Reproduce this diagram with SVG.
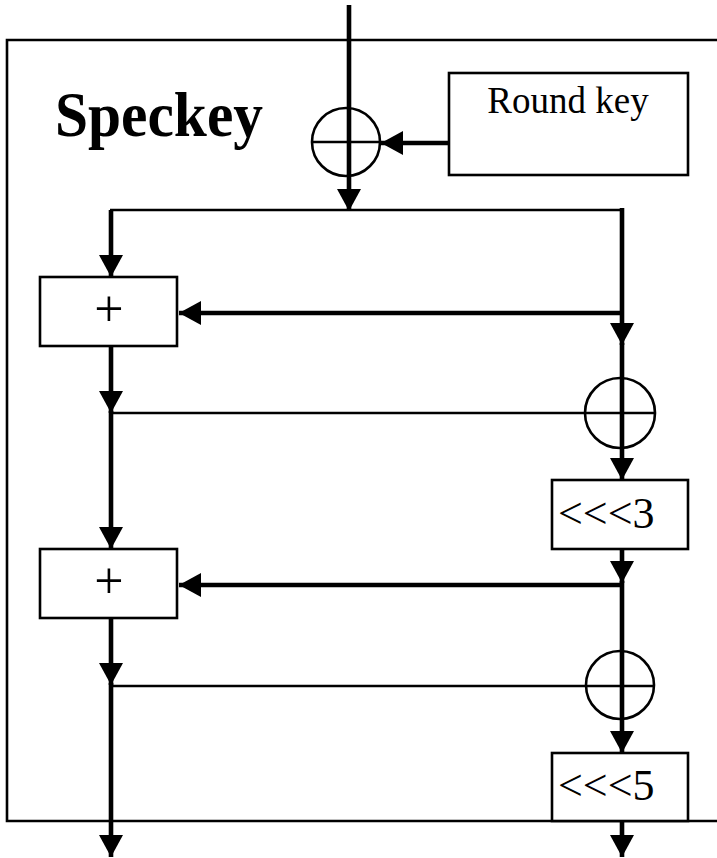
<svg xmlns="http://www.w3.org/2000/svg" width="717" height="858" viewBox="0 0 717 858">
  <defs>
    <marker id="arrow" markerUnits="userSpaceOnUse" markerWidth="22" markerHeight="24" refX="22" refY="12" orient="auto">
      <path d="M0,0 L22,12 L0,24 Z" fill="#000"/>
    </marker>
    <style>
      .box { fill: #fff; stroke: #000; stroke-width: 2.6; }
      .frame { fill: none; stroke: #000; stroke-width: 2.6; }
      .xor { fill: none; stroke: #000; stroke-width: 2.6; }
      .thick { fill: none; stroke: #000; stroke-width: 4.6; }
      .thin { fill: none; stroke: #000; stroke-width: 2.6; }
      .arr { marker-end: url(#arrow); }
      .label { font-family: "Liberation Serif", "Times New Roman", serif; fill: #000; }
    </style>
  </defs>
  <rect width="717" height="858" fill="#fff"/>

  <!-- outer round frame, open on the right where it leaves the page -->
  <path class="frame" d="M717,40 H7 V821 H717"/>
  <text class="label" x="55" y="136" font-size="64" font-weight="bold" textLength="208" lengthAdjust="spacingAndGlyphs">Speckey</text>

  <!-- connectors -->
  <g id="connectors">
    <line class="thick arr" x1="349" y1="5" x2="349" y2="211"/>
    <line class="thick arr" x1="449" y1="143" x2="381" y2="143"/>
    <line class="thin" x1="110" y1="210" x2="623" y2="210"/>
    <line class="thick arr" x1="111" y1="210" x2="111" y2="277"/>
    <line class="thick arr" x1="622" y1="208" x2="622" y2="345"/>
    <line class="thick arr" x1="622" y1="343" x2="622" y2="480"/>
    <line class="thick arr" x1="624" y1="313" x2="179" y2="313"/>
    <line class="thick arr" x1="111" y1="346" x2="111" y2="413"/>
    <line class="thick arr" x1="111" y1="411" x2="111" y2="549"/>
    <line class="thin" x1="111" y1="413" x2="655" y2="413"/>
    <line class="thick arr" x1="622" y1="549" x2="622" y2="583"/>
    <line class="thick arr" x1="622" y1="581" x2="622" y2="753"/>
    <line class="thick arr" x1="624" y1="585" x2="179" y2="585"/>
    <line class="thick arr" x1="111" y1="618" x2="111" y2="685"/>
    <line class="thick arr" x1="111" y1="683" x2="111" y2="857"/>
    <line class="thin" x1="111" y1="686" x2="655" y2="686"/>
    <line class="thick arr" x1="622" y1="821" x2="622" y2="857"/>
  </g>

  <g id="roundkey">
    <rect class="box" x="449" y="73" width="239" height="102"/>
    <text class="label" x="568" y="113" font-size="37" text-anchor="middle">Round key</text>
  </g>

  <g id="xor-key">
    <circle class="xor" cx="346" cy="142" r="34"/>
    <line class="thin" x1="312" y1="142" x2="380" y2="142"/>
  </g>

  <g id="add1">
    <rect class="box" x="40" y="277" width="137" height="69"/>
    <text class="label" x="109" y="326" font-size="52" text-anchor="middle">+</text>
  </g>

  <g id="xor1">
    <circle class="xor" cx="620" cy="413" r="35"/>
  </g>

  <g id="rot3">
    <rect class="box" x="552" y="480" width="136" height="69"/>
    <text class="label" x="558" y="528" font-size="44">&lt;&lt;&lt;3</text>
  </g>

  <g id="add2">
    <rect class="box" x="40" y="549" width="137" height="69"/>
    <text class="label" x="109" y="598" font-size="52" text-anchor="middle">+</text>
  </g>

  <g id="xor2">
    <circle class="xor" cx="620" cy="685" r="34"/>
  </g>

  <g id="rot5">
    <rect class="box" x="552" y="753" width="136" height="68"/>
    <text class="label" x="558" y="800" font-size="44">&lt;&lt;&lt;5</text>
  </g>
</svg>
